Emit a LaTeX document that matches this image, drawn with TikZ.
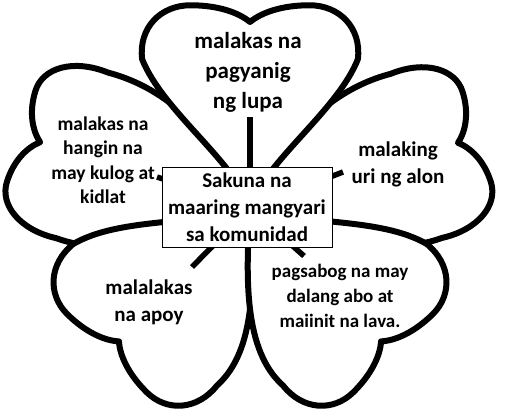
\documentclass[tikz,border=0pt]{standalone}
\usepackage{fontspec}
\setmainfont{Carlito}
\usetikzlibrary{positioning}

% one heart shaped petal: angle, length, width, flare on the clockwise side, flare on the other side
\newcommand{\petal}[5]{%
	\filldraw[petal, shift={(O)}, rotate=#1-90, xscale=#2*#3, yscale=#2]
		(0,0) .. controls (#4,0.25) and ({min(0.42+0.6*#4,0.6)},0.52) .. (0.58,0.8)
		.. controls (0.6,0.97) and (0.48,1.09) .. (0.32,1.09)
		.. controls (0.17,1.09) and (0.06,1.05) .. (0,1)
		.. controls (-0.06,1.05) and (-0.17,1.09) .. (-0.32,1.09)
		.. controls (-0.48,1.09) and (-0.6,0.97) .. (-0.58,0.8)
		.. controls ({-min(0.42+0.6*#5,0.6)},0.52) and (-#5,0.25) .. (0,0) -- cycle;}

\begin{document}
\begin{tikzpicture}[x=1pt, y=1pt, petal/.style={draw=black, fill=white, line width=6pt, line join=round},
		stem/.style={line width=5.5pt}, word/.style 2 args={font=\fontsize{#1}{#2}\selectfont\bfseries, align=center}]
	\useasboundingbox (0,0) rectangle (510,410);
	\coordinate (O) at (250,202);
	% petals, the later ones lie on top
	\petal{162.6}{220}{0.68}{0.4}{0.3}
	\petal{17.4}{218}{0.68}{0.3}{0.4}
	\petal{90}{186}{1}{0.08}{0.08}
	\petal{225.5}{187}{0.93}{0.13}{0.3}
	\petal{314.5}{187}{0.93}{0.3}{0.13}
	% stems
	\coordinate (s1) at (250,293); \coordinate (s2) at (157,233); \coordinate (s3) at (343,238);
	\coordinate (s4) at (192,143); \coordinate (s5) at (304,154);
	\foreach \s in {s1,s2,s3,s4,s5} \draw[stem] (O) -- (\s);
	\node[draw, line width=1pt, fill=white, minimum width=170pt, minimum height=80pt, inner sep=0pt, word={21}{27}] (disaster) at (247,203) {Sakuna na\\maaring mangyari\\sa komunidad};
	\node[word={23}{30}] (quake) at (248,338) {malakas na\\pagyanig\\ng lupa};
	\node[word={19.5}{24.5}] (wind) at (103,250) {malakas na\\hangin na\\may kulog at\\kidlat};
	\node[word={21}{27}] (wave) at (398,245.5) {malaking\\uri ng alon};
	\node[word={21}{27}] (fire) at (149,107.5) {malalakas\\na apoy};
	\node[word={19}{25}] (lava) at (340,114) {pagsabog na may\\dalang abo at\\maiinit na lava.};
\end{tikzpicture}
\end{document}
